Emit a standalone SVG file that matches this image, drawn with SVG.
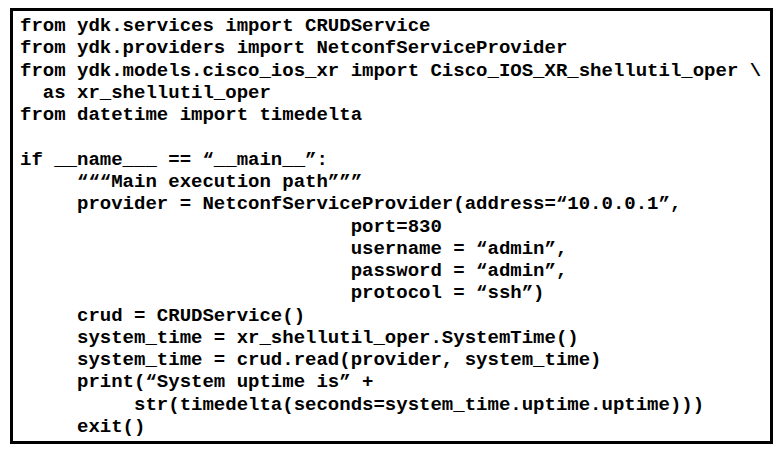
<svg xmlns="http://www.w3.org/2000/svg" width="783" height="454" viewBox="0 0 783 454">
<style>
text{font-family:"Liberation Mono","Courier New",monospace;font-weight:bold;font-size:19px;fill:#000;white-space:pre}
</style>
<rect x="0" y="0" width="783" height="454" fill="#fff"/>
<rect x="11.5" y="9.5" width="760" height="433" fill="#fff" stroke="#000" stroke-width="3"/>
<g id="code" xml:space="preserve">
<text x="20" y="31">from ydk.services import CRUDService</text>
<text x="20" y="53">from ydk.providers import NetconfServiceProvider</text>
<text x="20" y="76">from ydk.models.cisco_ios_xr import Cisco_IOS_XR_shellutil_oper \</text>
<text x="20" y="98">  as xr_shellutil_oper</text>
<text x="20" y="120">from datetime import timedelta</text>
<text x="20" y="165">if __name___ == “__main__”:</text>
<text x="20" y="187">     “““Main execution path”””</text>
<text x="20" y="209">     provider = NetconfServiceProvider(address=“10.0.0.1”,</text>
<text x="20" y="232">                             port=830</text>
<text x="20" y="254">                             username = “admin”,</text>
<text x="20" y="276">                             password = “admin”,</text>
<text x="20" y="298">                             protocol = “ssh”)</text>
<text x="20" y="321">     crud = CRUDService()</text>
<text x="20" y="343">     system_time = xr_shellutil_oper.SystemTime()</text>
<text x="20" y="365">     system_time = crud.read(provider, system_time)</text>
<text x="20" y="387">     print(“System uptime is” +</text>
<text x="20" y="410">          str(timedelta(seconds=system_time.uptime.uptime)))</text>
<text x="20" y="432">     exit()</text>
</g>
</svg>
